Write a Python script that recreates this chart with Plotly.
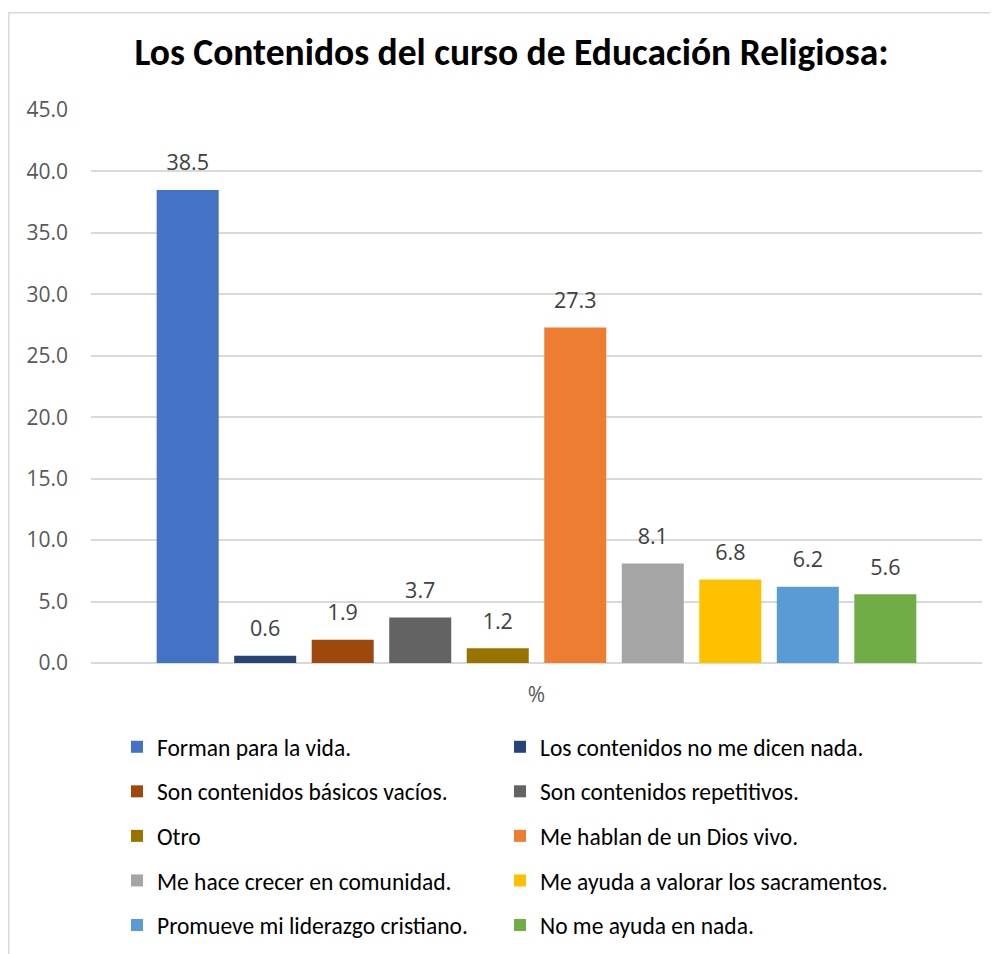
import plotly.graph_objects as go

categories = ["%"]
series_names = [
    "Forman para la vida.",
    "Los contenidos no me dicen nada.",
    "Son contenidos básicos vacíos.",
    "Son contenidos repetitivos.",
    "Otro",
    "Me hablan de un Dios vivo.",
    "Me hace crecer en comunidad.",
    "Me ayuda a valorar los sacramentos.",
    "Promueve mi liderazgo cristiano.",
    "No me ayuda en nada.",
]
series_values = [38.5, 0.6, 1.9, 3.7, 1.2, 27.3, 8.1, 6.8, 6.2, 5.6]
series_colors = ["#4472C4", "#264478", "#9E480E", "#636363", "#997300",
                 "#ED7D31", "#A5A5A5", "#FFC000", "#5B9BD5", "#70AD47"]
y_ticks = [0, 5, 10, 15, 20, 25, 30, 35, 40, 45]

# page body has an 8px margin; figure is sized so it ends at the window edge
OFF = 8
W, H = 998 - OFF, 954 - OFF
L, T = 91 - OFF, 110 - OFF
pw = 982 - 91
ph = 663 - 110
R = W - L - pw
B = H - T - ph

TITLE_FONT = "Carlito, 'Liberation Sans Narrow', 'Liberation Sans', sans-serif"
TICK_FONT = "'Open Sans', 'Noto Sans', sans-serif"

fig = go.Figure()
for i, (name, val, col) in enumerate(zip(series_names, series_values, series_colors)):
    fig.add_trace(go.Bar(
        x=categories, y=[val], name=name,
        marker=dict(color=col, line=dict(width=0)),
        texttemplate="<span style='font-size:21.5px'>%{y:.1f}</span><br> ",
        textposition="outside",
        textfont=dict(size=10.5, color="#404040", family=TICK_FONT),
        cliponaxis=False,
        legend="legend" if i % 2 == 0 else "legend2",
        legendgroup=f"g{i}",
    ))

def px_x(x):  # reference-pixel x -> paper
    return (x - OFF - L) / pw

def px_y(y):  # reference-pixel y -> paper
    return (T + ph - (y - OFF)) / ph

legend_common = dict(
    orientation="v", yref="container", yanchor="top",
    font=dict(size=23.5, color="#000000", family=TITLE_FONT),
    tracegroupgap=11, itemwidth=30, bgcolor="rgba(0,0,0,0)",
    itemclick=False,
)

fig.update_layout(
    width=W, height=H,
    margin=dict(l=L, r=R, t=T, b=B, autoexpand=False),
    paper_bgcolor="white", plot_bgcolor="white",
    barmode="group", bargap=0.13, bargroupgap=0.2,
    title=dict(text="<b>Los Contenidos del curso de Educación Religiosa:</b>",
               x=(511.5 - OFF) / W, xanchor="center", y=1 - 43.5 / H, yanchor="middle",
               font=dict(size=37.5, color="#000000", family=TITLE_FONT)),
    showlegend=True,
    legend=dict(x=px_x(117), y=1 - 717 / H, **legend_common),
    legend2=dict(x=px_x(500), y=1 - 717 / H, **legend_common),
    xaxis=dict(showgrid=False, showline=False, ticks="",
               tickfont=dict(size=21, color="#595959", family=TICK_FONT),
               ticklabelstandoff=17, zeroline=False),
    yaxis=dict(range=[0, 45], tickvals=y_ticks, tickformat=".1f",
               showgrid=True, gridcolor="#D9D9D9", gridwidth=1.5,
               zeroline=True, zerolinecolor="#D9D9D9", zerolinewidth=1.5,
               showline=False, ticks="",
               tickfont=dict(size=21, color="#595959", family=TICK_FONT),
               ticklabelstandoff=22),
    shapes=[dict(type="rect", xref="paper", yref="paper",
                 x0=px_x(8.75), x1=px_x(1010), y0=px_y(970), y1=px_y(12.75),
                 line=dict(color="#D9D9D9", width=1.5), fillcolor="rgba(0,0,0,0)",
                 layer="below")],
)

fig.write_html("out.html")
